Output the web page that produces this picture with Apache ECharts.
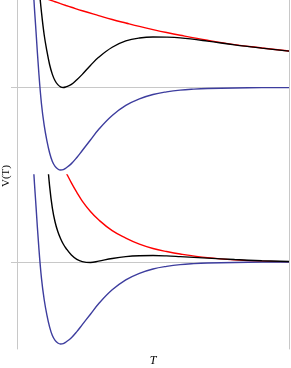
<!DOCTYPE html>
<html><head><meta charset="utf-8">
<script src="https://cdn.jsdelivr.net/npm/echarts@6/dist/echarts.min.js"></script>
<style>html,body{margin:0;padding:0;background:#fff}#c{width:291px;height:368px}</style>
</head><body><div id="c"></div>
<script>
// Top panel
var topBlueT = [0.55,0.6,0.7,0.8,0.9,1.0,1.1,1.2,1.3,1.4,1.5,1.6,1.7,1.8,2.0,2.2,2.4,2.7,3.0,3.5,4.0,4.5,5,5.5,6,6.5,7,8,9,10];
var topBlueV = [1.6,1.13,0.634,0.177,-0.189,-0.434,-0.611,-0.749,-0.846,-0.901,-0.931,-0.943,-0.939,-0.92,-0.87,-0.80,-0.72,-0.60,-0.48,-0.32,-0.205,-0.13,-0.08,-0.05,-0.03,-0.019,-0.012,-0.005,-0.002,-0.001];
var topBlackT = [0.75,0.8,0.9,1.0,1.1,1.2,1.3,1.4,1.5,1.6,1.7,1.8,2.0,2.2,2.4,2.7,3.0,3.5,4.0,4.5,5,5.5,6,7,8,9,10];
var topBlackV = [1.4,1.18,0.86,0.6,0.415,0.26,0.15,0.077,0.033,0.008,0.0,0.008,0.035,0.088,0.15,0.252,0.345,0.46,0.532,0.566,0.578,0.576,0.567,0.53,0.487,0.45,0.416];
var topRedT = [1.0,1.2,1.4,1.6,1.8,2.0,2.4,3.0,3.5,4.0,4.5,5,5.5,6,7,8,9,10];
var topRedV = [1.024,1.001,0.98,0.958,0.937,0.917,0.877,0.822,0.777,0.737,0.698,0.662,0.628,0.597,0.54,0.49,0.452,0.417];
// Bottom panel
var botBlueT = [0.55,0.6,0.7,0.8,0.9,1.0,1.1,1.2,1.3,1.4,1.5,1.6,1.7,1.8,2.0,2.2,2.4,2.7,3.0,3.5,4.0,4.5,5,5.5,6,6.5,7,8,9,10];
var botBlueV = [1.6,1.13,0.634,0.177,-0.189,-0.434,-0.611,-0.749,-0.846,-0.901,-0.931,-0.943,-0.939,-0.92,-0.87,-0.80,-0.72,-0.60,-0.48,-0.32,-0.205,-0.13,-0.08,-0.05,-0.03,-0.019,-0.012,-0.005,-0.002,-0.001];
var botBlackT = [1.0,1.1,1.2,1.3,1.4,1.5,1.6,1.7,1.8,2.0,2.2,2.4,2.7,3.0,3.5,4.0,4.5,5,5.5,6,7,8,9,10];
var botBlackV = [1.7,1.23,0.87,0.62,0.46,0.35,0.27,0.207,0.158,0.08,0.03,0.005,-0.005,0.01,0.04,0.062,0.072,0.074,0.07,0.062,0.045,0.028,0.015,0.006];
var botRedT = [1.7,1.8,2.0,2.2,2.4,2.7,3.0,3.5,4.0,4.5,5,5.5,6,7,8,9,10];
var botRedV = [1.09,1.03,0.91,0.80,0.70,0.58,0.485,0.36,0.275,0.205,0.155,0.12,0.092,0.05,0.024,0.01,0.004];

function pairs(t, v){ return t.map(function(x,i){ return [x, v[i]]; }); }

var frame = '#c8c8c8';
function yLeft(gi){
  return {type:'value', gridIndex:gi, min:-1, max:1, interval:1, position:'left',
    axisLine:{show:true, lineStyle:{color:frame, width:1}},
    axisTick:{show:true, length:6, customValues:[0], lineStyle:{color:frame}},
    axisLabel:{show:false},
    splitLine:{show:true, showMinLine:false, showMaxLine:false, lineStyle:{color:frame, width:1}}};
}
function yRight(gi){
  return {type:'value', gridIndex:gi, min:-1, max:1, position:'right',
    axisLine:{show:true, lineStyle:{color:frame, width:1}},
    axisTick:{show:false}, axisLabel:{show:false}, splitLine:{show:false}};
}
function line(xi, data, color){
  return {type:'line', xAxisIndex:xi, yAxisIndex:xi*2, data:data, smooth:0.4, showSymbol:false,
    symbol:'none', clip:true, lineStyle:{color:color, width:1.4}, animation:false};
}
var blue = '#3d3d9e';
var option = {
  animation:false,
  grid:[{left:17, right:2, top:0, height:175}, {left:17, right:2, top:175, height:175}],
  xAxis:[
    {type:'value', gridIndex:0, min:0, max:10, position:'top',
     axisLine:{show:true, lineStyle:{color:frame}}, axisTick:{show:false}, axisLabel:{show:false}, splitLine:{show:false}},
    {type:'value', gridIndex:1, min:0, max:10, position:'bottom',
     axisLine:{show:true, lineStyle:{color:frame}}, axisTick:{show:false}, axisLabel:{show:false}, splitLine:{show:false},
     name:'T', nameLocation:'middle', nameGap:6,
     nameTextStyle:{fontFamily:'Liberation Serif', fontStyle:'italic', fontSize:12, color:'#000', verticalAlign:'top'}}
  ],
  yAxis:[yLeft(0), yRight(0), yLeft(1), yRight(1)],
  graphic:[{type:'text', left:1, top:165, rotation:Math.PI/2,
    style:{text:'V(T)', font:'11px "Liberation Serif"', fill:'#000'}}],
  series:[
    line(0, pairs(topRedT, topRedV), '#ff0000'),
    line(0, pairs(topBlueT, topBlueV), blue),
    line(0, pairs(topBlackT, topBlackV), '#000000'),
    line(1, pairs(botRedT, botRedV), '#ff0000'),
    line(1, pairs(botBlueT, botBlueV), blue),
    line(1, pairs(botBlackT, botBlackV), '#000000')
  ]
};
var chart = echarts.init(document.getElementById('c'), null, {renderer:'canvas'});
chart.setOption(option);
</script></body></html>
